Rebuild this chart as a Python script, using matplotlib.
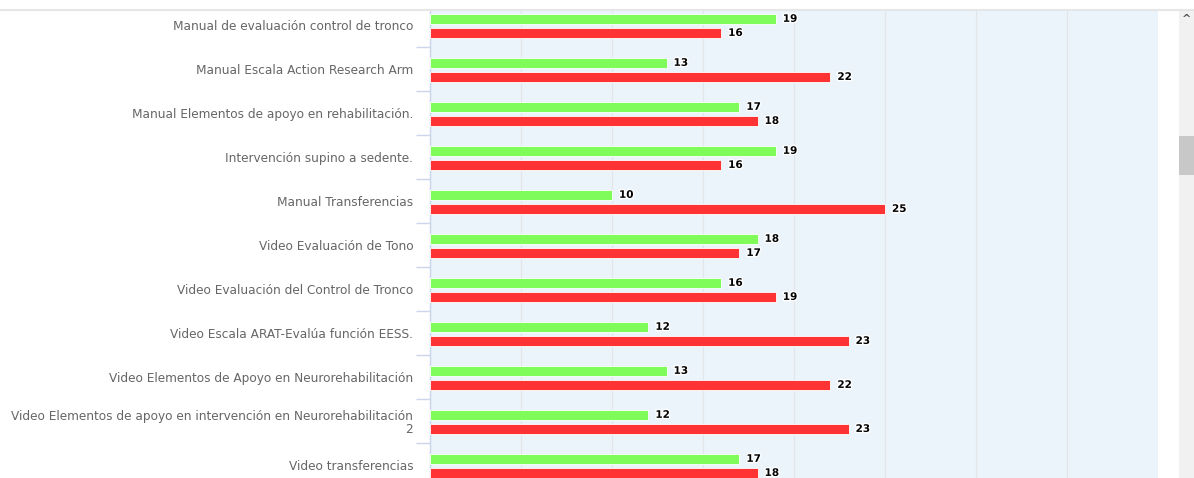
import matplotlib
matplotlib.use("Agg")
import matplotlib.pyplot as plt
import matplotlib.patheffects as pe
from matplotlib.patches import Rectangle
from matplotlib.lines import Line2D
import numpy as np

categories = [
    "Manual de evaluación control de tronco",
    "Manual Escala Action Research Arm",
    "Manual Elementos de apoyo en rehabilitación.",
    "Intervención supino a sedente.",
    "Manual Transferencias",
    "Video Evaluación de Tono",
    "Video Evaluación del Control de Tronco",
    "Video Escala ARAT-Evalúa función EESS.",
    "Video Elementos de Apoyo en Neurorehabilitación",
    "Video Elementos de apoyo en intervención en Neurorehabilitación\n2",
    "Video transferencias",
]
green_values = [19, 13, 17, 19, 10, 18, 16, 12, 13, 12, 17]
red_values = [16, 22, 18, 16, 25, 17, 19, 23, 22, 23, 18]
x_ticks = [0, 5, 10, 15, 20, 25, 30, 35, 40]

W, H = 1194, 478
fig = plt.figure(figsize=(W / 100, H / 100), dpi=100)
fig.patch.set_facecolor("white")

ax_left, ax_right, ax_top, ax_bottom = 430, 1158, 10, 478
ax = fig.add_axes([ax_left / W, 1 - ax_bottom / H, (ax_right - ax_left) / W, (ax_bottom - ax_top) / H])
ax.set_facecolor("#ecf4fb")

y = np.arange(len(categories))
bh = 0.23
ax.barh(y - 0.14, green_values, height=bh, color="#80fc5a", edgecolor="#ffffff", linewidth=0.6, zorder=3)
ax.barh(y + 0.18, red_values, height=bh, color="#ff3333", edgecolor="#ffffff", linewidth=0.6, zorder=3)

stroke = [pe.withStroke(linewidth=2, foreground="white")]
for i, (g, r) in enumerate(zip(green_values, red_values)):
    ax.annotate(str(g), (g, i - 0.14), xytext=(7, 0), textcoords="offset pixels",
                va="center", ha="left", fontsize=7.5, fontweight="bold", color="black",
                path_effects=stroke, zorder=5)
    ax.annotate(str(r), (r, i + 0.18), xytext=(7, 0), textcoords="offset pixels",
                va="center", ha="left", fontsize=7.5, fontweight="bold", color="black",
                path_effects=stroke, zorder=5)

ax.set_xticks(x_ticks)
ax.xaxis.grid(True, color="#e2e6ea", linewidth=1)
ax.set_axisbelow(True)
ax.tick_params(axis="x", bottom=False, labelbottom=False)

ax.set_yticks(y)
ax.set_yticklabels(categories, fontsize=8.7, color="#666666", ha="right",
                   multialignment="right", linespacing=1.0)
ax.set_yticks(np.arange(-0.5, len(categories) + 0.5, 1), minor=True)
ax.tick_params(axis="y", which="minor", length=10, color="#ccd6eb", width=1)
ax.tick_params(axis="y", which="major", length=0, pad=12)

ax.set_xlim(0, 40)
ax.set_ylim(9.5 + 35 / 44, -0.5 + 7 / 44)

for s in ["top", "right", "bottom"]:
    ax.spines[s].set_visible(False)
ax.spines["left"].set_color("#ccd6eb")
ax.spines["left"].set_linewidth(1)

# top border shadow
fig.add_artist(Line2D([0, 1], [1 - 9.5 / H, 1 - 9.5 / H], transform=fig.transFigure,
                      color="#e6e6e6", linewidth=1.5))

# scrollbar
fig.add_artist(Rectangle((1179 / W, 0), 15 / W, 1 - 10 / H, transform=fig.transFigure,
                         facecolor="#f1f1f1", edgecolor="none"))
fig.add_artist(Rectangle((1179 / W, 1 - 175 / H), 15 / W, 39 / H, transform=fig.transFigure,
                         facecolor="#c8c8c8", edgecolor="none"))
fig.text(1186.5 / W, 1 - 19 / H, "^", ha="center", va="center", fontsize=8,
         color="#505050", fontweight="bold")

fig.savefig("out.png", dpi=100)
